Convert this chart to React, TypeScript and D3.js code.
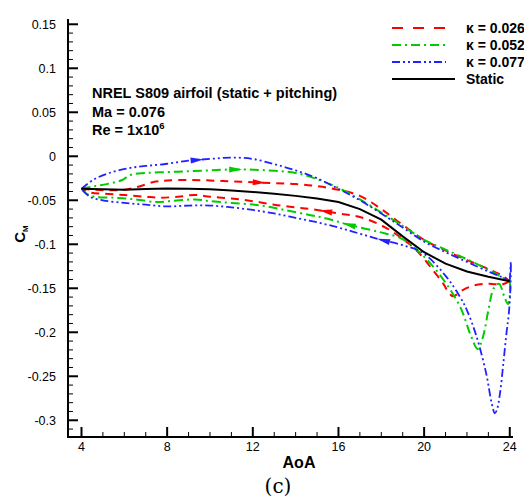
import React from "react";
import * as d3 from "d3";

type P = [number, number];

const staticAoa = [4, 5, 6, 7, 8, 9, 10, 11, 12, 13, 14, 15, 16, 17, 18, 19, 20, 21, 22, 23, 24];
const staticCm = [-0.037, -0.0375, -0.038, -0.0372, -0.0365, -0.0368, -0.0375, -0.039, -0.0405, -0.0425, -0.045, -0.048, -0.052, -0.06, -0.072, -0.091, -0.109, -0.122, -0.131, -0.137, -0.142];

const k026Up: P[] = [[4, -0.037], [5, -0.0385], [6, -0.038], [6.6, -0.035], [7.4, -0.029], [8, -0.0275], [9, -0.027], [10, -0.0275], [11, -0.0285], [12, -0.0295], [13, -0.0305], [14, -0.0315], [15, -0.034], [16, -0.038], [17, -0.045], [18, -0.06], [19, -0.078], [20, -0.095], [21, -0.107], [22, -0.118], [23, -0.128], [23.6, -0.135], [24, -0.142]];
const k026Down: P[] = [[24, -0.142], [23.6, -0.146], [23.2, -0.145], [22.8, -0.145], [22.3, -0.147], [21.8, -0.152], [21.35, -0.159], [21.1, -0.153], [20.9, -0.145], [20.3, -0.126], [19.65, -0.107], [19, -0.094], [18.2, -0.081], [17, -0.069], [16, -0.065], [15, -0.061], [14, -0.058], [13, -0.055], [12, -0.051], [11, -0.048], [10, -0.046], [9.3, -0.044], [8.5, -0.046], [7.7, -0.047], [7, -0.046], [6, -0.044], [5, -0.0425], [4.4, -0.041], [4, -0.037]];

const k052Up: P[] = [[4, -0.037], [4.6, -0.034], [5.3, -0.031], [5.9, -0.027], [6.3, -0.021], [7, -0.019], [8, -0.018], [9, -0.017], [10, -0.016], [11, -0.015], [12, -0.0152], [13, -0.0165], [14, -0.019], [15, -0.026], [16, -0.036], [17, -0.049], [18, -0.064], [19, -0.079], [20, -0.095], [21, -0.106], [22, -0.117], [23, -0.129], [23.6, -0.137], [24, -0.143]];
const k052Down: P[] = [[24, -0.143], [24.02, -0.152], [23.92, -0.168], [23.75, -0.16], [23.5, -0.145], [23.25, -0.15], [23.0, -0.175], [22.75, -0.205], [22.5, -0.219], [22.2, -0.205], [21.7, -0.172], [21.04, -0.145], [20.3, -0.122], [19.5, -0.103], [18.9, -0.093], [17.9, -0.086], [16.5, -0.078], [15.5, -0.071], [14.7, -0.067], [13.5, -0.061], [12.3, -0.0557], [11, -0.053], [10, -0.051], [9.3, -0.049], [8.1, -0.051], [7.5, -0.052], [6.5, -0.049], [5.5, -0.047], [4.6, -0.046], [4.2, -0.042], [4, -0.037]];

const k077Up: P[] = [[4, -0.037], [4.6, -0.026], [5.3, -0.019], [6.2, -0.0135], [7, -0.011], [8, -0.0085], [9, -0.005], [10, -0.003], [11, -0.0015], [12, -0.003], [13, -0.009], [14, -0.016], [15, -0.025], [16, -0.037], [17, -0.05], [18, -0.065], [19, -0.081], [20, -0.097], [21, -0.109], [22, -0.12], [23, -0.131], [23.6, -0.137], [24, -0.141]];
const k077Down: P[] = [[24, -0.141], [24.05, -0.12], [24.03, -0.15], [23.95, -0.18], [23.85, -0.2], [23.7, -0.235], [23.55, -0.268], [23.4, -0.288], [23.3, -0.292], [23.15, -0.28], [22.9, -0.247], [22.45, -0.205], [22, -0.175], [21.68, -0.16], [21.04, -0.137], [19.95, -0.11], [19, -0.101], [18, -0.095], [17, -0.088], [16, -0.081], [15, -0.075], [14, -0.07], [13, -0.065], [12, -0.061], [11, -0.058], [10, -0.056], [9, -0.056], [8, -0.057], [7, -0.055], [6, -0.053], [5, -0.05], [4.4, -0.046], [4, -0.037]];

const xTicks = [4, 8, 12, 16, 20, 24];
const yTicks = [0.15, 0.1, 0.05, 0, -0.05, -0.1, -0.15, -0.2, -0.25, -0.3];
const legendLabels = ["κ = 0.026", "κ = 0.052", "κ = 0.077", "Static"];

const W = 524, H = 504;
const x = d3.scaleLinear().domain([3.37, 24.15]).range([68, 513]);
const y = d3.scaleLinear().domain([-0.319, 0.156]).range([437, 19]);

const font = "'Liberation Sans', Arial, sans-serif";

const series = [
  { up: k026Up, down: k026Down, color: "#ff0000", dash: "8,6", width: 2, upArrow: 12.3, downArrow: 15.4 },
  { up: k052Up, down: k052Down, color: "#00cc00", dash: "9,4,2,4", width: 2, upArrow: 11.2, downArrow: 16.5 },
  { up: k077Up, down: k077Down, color: "#2222ff", dash: "8,3,2,3,2,3", width: 1.8, upArrow: 9.4, downArrow: 18.1 },
];

function interp(branch: P[], a: number): number {
  for (let i = 0; i < branch.length - 1; i++) {
    const [a0, c0] = branch[i];
    const [a1, c1] = branch[i + 1];
    if ((a - a0) * (a - a1) <= 0 && a0 !== a1) {
      return c0 + ((a - a0) / (a1 - a0)) * (c1 - c0);
    }
  }
  return branch[0][1];
}

function arrowPath(branch: P[], a: number, dir: number): string {
  const px = x(a), py = y(interp(branch, a));
  const a2 = a + dir * 0.3;
  const qx = x(a2), qy = y(interp(branch, a2));
  const ang = Math.atan2(qy - py, qx - px);
  const L = 13, hw = 3;
  const tipx = px + Math.cos(ang) * L / 2, tipy = py + Math.sin(ang) * L / 2;
  const bx = px - Math.cos(ang) * L / 2, by = py - Math.sin(ang) * L / 2;
  const nx = -Math.sin(ang) * hw, ny = Math.cos(ang) * hw;
  return `M${tipx},${tipy}L${bx + nx},${by + ny}L${bx - nx},${by - ny}Z`;
}

export default function App() {
  const smooth = d3.line<P>().x(d => x(d[0])).y(d => y(d[1])).curve(d3.curveCatmullRom.alpha(0.5));
  const straight = d3.line<P>().x(d => x(d[0])).y(d => y(d[1]));
  const staticPts: P[] = staticAoa.map((a, i) => [a, staticCm[i]]);

  const yMinor = d3.range(-0.31, 0.156, 0.01).filter(v => Math.abs(Math.round(v * 100) % 5) !== 0);
  const xMinor = d3.range(4, 24.1, 1).filter(v => v % 4 !== 0);

  const legendY = [28, 45, 62, 79];
  const legendStyles = [...series.map(s => ({ color: s.color, dash: s.dash, width: s.width, x2: 446 })), { color: "#000", dash: "", width: 2, x2: 455 }];

  return (
    <svg width={W} height={H} style={{ position: "absolute", left: 0, top: 0, background: "#fff" }}>
      {/* axes */}
      <line x1={68} y1={19} x2={68} y2={437} stroke="#000" strokeWidth={2} />
      <line x1={67} y1={437} x2={513} y2={437} stroke="#000" strokeWidth={2} />
      {yTicks.map(t => (
        <g key={"yt" + t}>
          <line x1={68} x2={78} y1={y(t)} y2={y(t)} stroke="#000" strokeWidth={2} />
          <text x={56} y={y(t) + 4.5} textAnchor="end" fontFamily={font} fontSize={12.5} fill="#000">{String(t)}</text>
        </g>
      ))}
      {yMinor.map(t => (
        <line key={"ym" + t} x1={68} x2={73} y1={y(t)} y2={y(t)} stroke="#000" strokeWidth={1} />
      ))}
      {xTicks.map(t => (
        <g key={"xt" + t}>
          <line x1={x(t)} x2={x(t)} y1={437} y2={427} stroke="#000" strokeWidth={2} />
          <text x={x(t)} y={451} textAnchor="middle" fontFamily={font} fontSize={12.5} fill="#000">{t}</text>
        </g>
      ))}
      {xMinor.map(t => (
        <line key={"xm" + t} x1={x(t)} x2={x(t)} y1={437} y2={432} stroke="#000" strokeWidth={1} />
      ))}

      {/* curves */}
      {series.map((s, i) => (
        <g key={"s" + i}>
          <path d={smooth(s.up) || ""} fill="none" stroke={s.color} strokeWidth={s.width} strokeDasharray={s.dash} />
          <path d={smooth(s.down) || ""} fill="none" stroke={s.color} strokeWidth={s.width} strokeDasharray={s.dash} />
        </g>
      ))}
      <path d={straight(staticPts) || ""} fill="none" stroke="#000" strokeWidth={2} />
      {series.map((s, i) => (
        <g key={"a" + i}>
          <path d={arrowPath(s.up, s.upArrow, 1)} fill={s.color} />
          <path d={arrowPath(s.down, s.downArrow, -1)} fill={s.color} />
        </g>
      ))}

      {/* annotation */}
      <text x={92} y={98} fontFamily={font} fontSize={14.5} fontWeight="bold" fill="#000">NREL S809 airfoil (static + pitching)</text>
      <text x={92} y={117} fontFamily={font} fontSize={14.5} fontWeight="bold" fill="#000">Ma = 0.076</text>
      <text x={92} y={135} fontFamily={font} fontSize={14.5} fontWeight="bold" fill="#000">
        Re = 1x10<tspan fontSize={9.5} dy={-6}>6</tspan>
      </text>

      {/* legend */}
      {legendLabels.map((lab, i) => (
        <g key={"l" + i}>
          <line x1={392} x2={legendStyles[i].x2} y1={legendY[i]} y2={legendY[i]} stroke={legendStyles[i].color} strokeWidth={legendStyles[i].width} strokeDasharray={i === 0 ? "11,10" : legendStyles[i].dash} />
          <text x={466} y={legendY[i] + 5} fontFamily={font} fontSize={14} fontWeight="bold" fill="#000">{lab}</text>
        </g>
      ))}

      {/* axis titles */}
      <text x={299} y={468} textAnchor="middle" fontFamily={font} fontSize={16} fontWeight="bold" fill="#000">AoA</text>
      <text transform={`translate(25,234) rotate(-90)`} textAnchor="middle" fontFamily={font} fontSize={15} fontWeight="bold" fill="#000">
        C<tspan fontSize={8} dy={3}>M</tspan>
      </text>
      <text x={278} y={493} textAnchor="middle" fontFamily="'DejaVu Serif', 'Liberation Serif', serif" fontSize={20} fill="#000">(c)</text>
    </svg>
  );
}
